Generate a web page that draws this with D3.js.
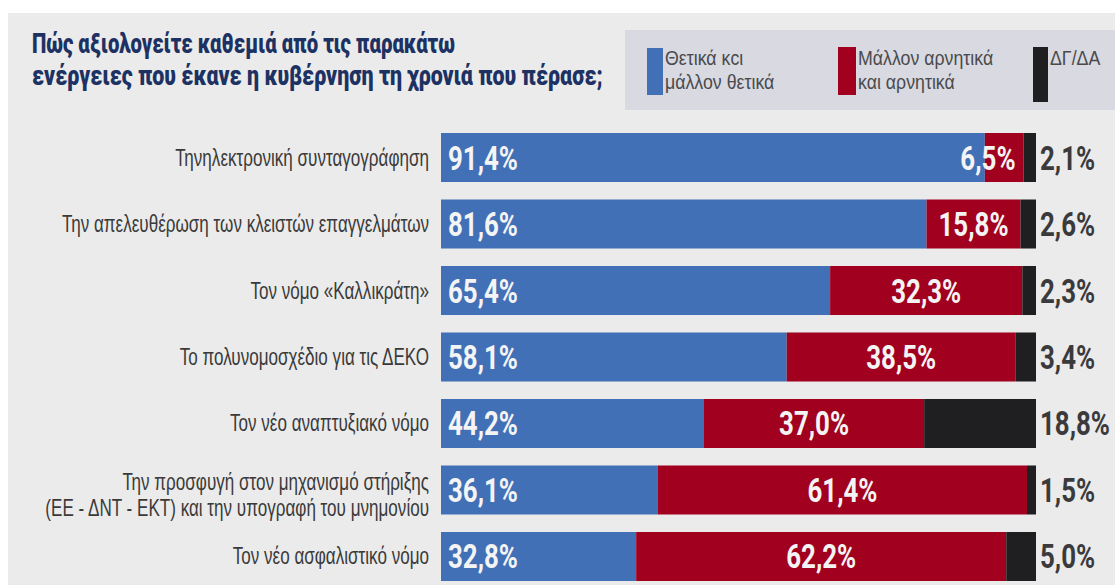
<!DOCTYPE html>
<html>
<head>
<meta charset="utf-8">
<script src="https://cdn.jsdelivr.net/npm/d3@7"></script>
<style>
  html, body { margin: 0; padding: 0; background: #ffffff; }
  svg { display: block; }
</style>
</head>
<body>
<svg id="chart" width="1115" height="585"></svg>
<script>
// Survey: how respondents rate each government action of the past year
const titleLines = [
  "Πώς αξιολογείτε καθεμιά από τις παρακάτω",
  "ενέργειες που έκανε η κυβέρνηση τη χρονιά που πέρασε;"
];

const categories = [
  "Τηνηλεκτρονική συνταγογράφηση",
  "Την απελευθέρωση των κλειστών επαγγελμάτων",
  "Τον νόμο «Καλλικράτη»",
  "Το πολυνομοσχέδιο για τις ΔΕΚΟ",
  "Τον νέο αναπτυξιακό νόμο",
  "Την προσφυγή στον μηχανισμό στήριξης\n(ΕΕ - ΔΝΤ - ΕΚΤ) και την υπογραφή του μνημονίου",
  "Τον νέο ασφαλιστικό νόμο"
];

const positive = [91.4, 81.6, 65.4, 58.1, 44.2, 36.1, 32.8];
const negative = [6.5, 15.8, 32.3, 38.5, 37.0, 61.4, 62.2];
const noAnswer = [2.1, 2.6, 2.3, 3.4, 18.8, 1.5, 5.0];

const seriesKeys = ["positive", "negative", "noAnswer"];
const seriesLabels = [
  ["Θετικά κcι", "μάλλον θετικά"],
  ["Μάλλον αρνητικά", "και αρνητικά"],
  ["ΔΓ/ΔΑ"]
];
const seriesColors = ["#4270b6", "#a1001f", "#1f1f21"];

// ---------------------------------------------------------------
const svg = d3.select("#chart");
const W = 1115, H = 585;

// page panel
svg.append("rect").attr("x", 0).attr("y", 0).attr("width", W).attr("height", H).attr("fill", "#ffffff");
svg.append("rect").attr("x", 8).attr("y", 13).attr("width", W - 8).attr("height", H - 13).attr("fill", "#ebebeb");

// natural width of a string in a given style
const probe = svg.append("text").attr("visibility", "hidden");
function measure(str, attrs) {
  Object.entries(attrs).forEach(([k, v]) => probe.attr(k, v));
  return probe.text(str).node().getComputedTextLength();
}
// text squeezed horizontally around its anchor point
function squeezed(parent, x, y, factor, str, attrs) {
  const g = parent.append("g").attr("transform", `translate(${x},${y}) scale(${factor},1)`);
  const t = g.append("text").text(str);
  Object.entries(attrs).forEach(([k, v]) => t.attr(k, v));
  return t;
}

// title
const titleStyle = {
  "font-family": "Roboto, 'Liberation Sans', sans-serif",
  "font-weight": 900,
  "font-size": "28px",
  "fill": "#1d3263"
};
squeezed(svg, 32, 53, 423 / measure(titleLines[0], titleStyle), titleLines[0], titleStyle);
squeezed(svg, 32, 85, 571 / measure(titleLines[1], titleStyle), titleLines[1], titleStyle);

// legend
svg.append("rect").attr("x", 625).attr("y", 30).attr("width", W - 625).attr("height", 80).attr("fill", "#d8d9e1");
const legendStyle = {
  "font-family": "'Liberation Sans', Arial, sans-serif",
  "font-size": "21px",
  "fill": "#4a4a4c"
};
const legendSqueeze = 85 / measure(seriesLabels[0][0], legendStyle);
const legendX = [647, 838, 1033];
const swatches = [
  { w: 16, y: 48, h: 47 },
  { w: 18, y: 47, h: 48 },
  { w: 15, y: 47, h: 55 }
];
seriesKeys.forEach((k, i) => {
  const sw = swatches[i];
  svg.append("rect")
    .attr("x", legendX[i]).attr("y", sw.y)
    .attr("width", sw.w).attr("height", sw.h)
    .attr("fill", seriesColors[i]);
  seriesLabels[i].forEach((line, j) => {
    squeezed(svg, legendX[i] + sw.w + 2, 65 + j * 24, legendSqueeze, line, legendStyle);
  });
});

// data table, each row normalised to its own total
const rows = categories.map((c, i) => {
  const total = positive[i] + negative[i] + noAnswer[i];
  return {
    category: c,
    raw: { positive: positive[i], negative: negative[i], noAnswer: noAnswer[i] },
    positive: positive[i] / total,
    negative: negative[i] / total,
    noAnswer: noAnswer[i] / total
  };
});

const x = d3.scaleLinear().domain([0, 1]).range([441, 1036]);
const y = d3.scaleBand().domain(categories).range([133, 581]).paddingInner(0.263).paddingOuter(0);
const color = d3.scaleOrdinal().domain(seriesKeys).range(seriesColors);

const stacked = d3.stack().keys(seriesKeys)(rows);

const fmt = v => d3.format(".1f")(v).replace(".", ",") + "%";

// bars
svg.append("g").selectAll("g")
  .data(stacked)
  .join("g")
  .attr("fill", d => color(d.key))
  .selectAll("rect")
  .data(d => d)
  .join("rect")
  .attr("x", d => x(d[0]))
  .attr("y", d => y(d.data.category))
  .attr("width", d => x(d[1]) - x(d[0]))
  .attr("height", y.bandwidth());

// category labels
const catStyle = {
  "font-family": "'Liberation Sans', Arial, sans-serif",
  "font-size": "23px",
  "fill": "#3a3a3a",
  "text-anchor": "end"
};
const catSqueeze = 278 / measure(categories[0], catStyle);
const catLayer = svg.append("g");
rows.forEach(r => {
  const lines = r.category.split("\n");
  const cy = y(r.category) + y.bandwidth() / 2;
  lines.forEach((line, k) => {
    squeezed(catLayer, 429, cy + 8 + k * 26 - (lines.length - 1) * 8, catSqueeze, line, catStyle);
  });
});

// value labels
const valueStyle = {
  "font-family": "Roboto, 'Liberation Sans', sans-serif",
  "font-weight": 700,
  "font-size": "34px"
};
const vf = 70 / measure(fmt(positive[0]), valueStyle);
const inside = Object.assign({ fill: "#f4f4f4" }, valueStyle);
const outside = Object.assign({ fill: "#3a3a3c" }, valueStyle);
const valLayer = svg.append("g");
rows.forEach(r => {
  const cy = y(r.category) + y.bandwidth() / 2 + 12;

  // positive: at the start of the bar
  squeezed(valLayer, x(0) + 7, cy, vf, fmt(r.raw.positive), inside);

  // negative: centred in its segment, kept inside the bar end
  const s = r.positive, e = r.positive + r.negative;
  const w = measure(fmt(r.raw.negative), valueStyle) * vf;
  const cx = Math.min((x(s) + x(e)) / 2, x(e) - 8 - w / 2);
  squeezed(valLayer, cx, cy, vf, fmt(r.raw.negative), Object.assign({ "text-anchor": "middle" }, inside));

  // no answer: outside, to the right of the bar
  squeezed(valLayer, x(1) + 4, cy, vf, fmt(r.raw.noAnswer), outside);
});
probe.remove();
</script>
</body>
</html>
